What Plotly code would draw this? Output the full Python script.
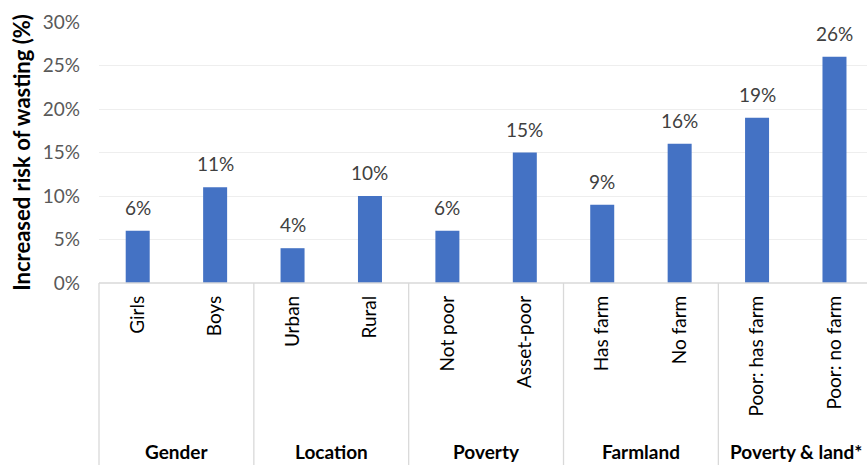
import plotly.graph_objects as go

categories = ["Girls", "Boys", "Urban", "Rural", "Not poor", "Asset-poor",
              "Has farm", "No farm", "Poor: has farm", "Poor: no farm"]
values = [6, 11, 4, 10, 6, 15, 9, 16, 19, 26]
groups = ["Gender", "Location", "Poverty", "Farmland", "Poverty & land*"]
group_size = 2
y_ticks = [0, 5, 10, 15, 20, 25, 30]

W, H = 867, 465
ml, mr, mt, mb = 99, 0, 22, 182
x0, x1 = -0.5, 9.42
FONT = "Lato"
FS = 19

fig = go.Figure()
fig.add_trace(go.Bar(
    x=list(range(len(categories))), y=values,
    marker=dict(color="#4472C4", line=dict(width=0)),
    width=0.31,
    cliponaxis=False,
))

annotations = []
for i, v in enumerate(values):
    annotations.append(dict(x=i, y=v, xref="x", yref="y", text=f"{v}%",
                            showarrow=False, yanchor="bottom", yshift=10,
                            font=dict(family=FONT, size=FS, color="#404040")))

shapes = []
sep_color = "#d9d9d9"
ph = H - mt - mb
ybot = -mb / ph
for g in range(len(groups) + 1):
    xv = g * group_size - 0.5
    if xv > x1:
        continue
    px = (xv - x0) / (x1 - x0)
    shapes.append(dict(type="line", xref="paper", yref="paper", x0=px, x1=px,
                       y0=0, y1=ybot, line=dict(color=sep_color, width=1.3)))
shapes.append(dict(type="line", xref="paper", yref="paper", x0=0, x1=1,
                   y0=0, y1=0, line=dict(color=sep_color, width=1.3)))

for i, gname in enumerate(groups):
    cx = i * group_size + (group_size - 1) / 2
    annotations.append(dict(x=cx, y=ybot, xref="x", yref="paper",
                            text=f"<b>{gname}</b>", showarrow=False,
                            yanchor="bottom", yshift=0,
                            font=dict(family=FONT, size=FS, color="#000000")))

fig.update_layout(
    width=W, height=H,
    margin=dict(l=ml, r=mr, t=mt, b=mb),
    paper_bgcolor="white", plot_bgcolor="white",
    showlegend=False,
    shapes=shapes, annotations=annotations,
    xaxis=dict(range=[x0, x1], tickmode="array",
               tickvals=list(range(len(categories))), ticktext=categories,
               tickangle=-90, showgrid=False, zeroline=False, showline=False,
               ticks="", ticklabelstandoff=8,
               tickfont=dict(family=FONT, size=FS, color="#000000")),
    yaxis=dict(range=[0, 30], tickmode="array", tickvals=y_ticks,
               ticktext=[f"{t}%" for t in y_ticks],
               showgrid=True, gridcolor="#eeeeee", gridwidth=1.3,
               zeroline=False, showline=False, ticks="", ticklabelstandoff=18,
               tickfont=dict(family=FONT, size=FS, color="#595959"),
               title=dict(text="<b>Increased risk of wasting (%)</b>",
                          font=dict(family=FONT, size=22, color="#000000"),
                          standoff=6)),
)

fig.write_html("out.html")
